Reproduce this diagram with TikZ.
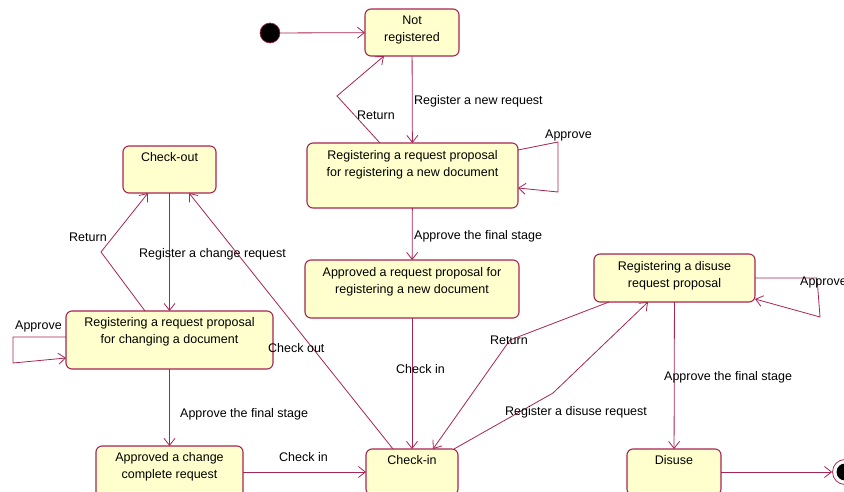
\documentclass[tikz,border=0pt]{standalone}
\usepackage{fontspec}
\setmainfont{Liberation Sans}
\usetikzlibrary{arrows.meta,calc}
\definecolor{umlline}{RGB}{168,36,84}
\definecolor{umlfill}{RGB}{255,255,206}
\begin{document}
\begin{tikzpicture}[x=1pt,y=-1pt,
  statebox/.style={draw=umlline,fill=umlfill,line width=1.1pt,rounded corners=6pt,inner sep=0pt,outer sep=0pt,anchor=north west},
  statetext/.style={anchor=north,inner sep=0pt,align=center,font=\fontsize{12.5}{17}\selectfont},
  lbl/.style={anchor=west,inner sep=0pt,font=\fontsize{12.5}{15}\selectfont},
  tr/.style={draw=umlline,line width=0.8pt,-{Straight Barb[length=7pt,width=11pt]}},
]
\useasboundingbox (0,0) rectangle (844,492);
% states
\node[statebox,minimum width=94pt,minimum height=47pt] (nr) at (365,9) {};
\node[statebox,minimum width=211pt,minimum height=65pt] (rn) at (307,143) {};
\node[statebox,minimum width=214pt,minimum height=58pt] (an) at (305,260) {};
\node[statebox,minimum width=92pt,minimum height=46pt] (ci) at (366,449) {};
\node[statebox,minimum width=93pt,minimum height=47pt] (co) at (123,146) {};
\node[statebox,minimum width=207pt,minimum height=58pt] (rc) at (66,311) {};
\node[statebox,minimum width=147pt,minimum height=52pt] (ac) at (96,446) {};
\node[statebox,minimum width=161pt,minimum height=48pt] (rd) at (594,254) {};
\node[statebox,minimum width=94pt,minimum height=46pt] (du) at (627,449) {};
% texts
\node[statetext] (tnr) at ($(nr.north)+(0,7)$) {Not\\registered};
\node[statetext] (trn) at ($(rn.north)+(0,7)$) {Registering a request proposal\\for registering a new document};
\node[statetext] (tan) at ($(an.north)+(0,7)$) {Approved a request proposal for\\registering a new document};
\node[statetext] (tci) at ($(ci.north)+(0,6)$) {Check-in};
\node[statetext] (tco) at ($(co.north)+(0,6)$) {Check-out};
\node[statetext] (trc) at ($(rc.north)+(0,6)$) {Registering a request proposal\\for changing a document};
\node[statetext] (tac) at ($(ac.north)+(0,6)$) {Approved a change\\complete request};
\node[statetext] (trd) at ($(rd.north)+(0,7)$) {Registering a disuse\\request proposal};
\node[statetext] (tdu) at ($(du.north)+(0,6)$) {Disuse};
% pseudo states
\node[circle,fill=black,draw=umlline,line width=0.6pt,minimum size=20pt,inner sep=0pt] (init) at (270,33) {};
\node[circle,draw=umlline,line width=0.8pt,minimum size=25pt,inner sep=0pt] (fin) at (845,472) {};
\fill[black] (fin.center) circle (8.5pt);
% bend coordinates
\coordinate (b1) at (337,96);
\coordinate (b2) at (101,252);
\coordinate (b3) at (510,340);
\coordinate (b4) at (553,393);
% transitions
\draw[tr] (init) -- (nr);
\draw[tr] (nr) -- (rn);
\draw[tr] (rn) -- (an);
\draw[tr] (an) -- (ci);
\draw[tr] (co) -- (rc);
\draw[tr] (rc) -- (ac);
\draw[tr] (rd) -- (du);
\draw[tr] (ac.east |- 0,472) -- (ci.west |- 0,472);
\draw[tr] (du) -- (fin);
\draw[tr] ($(rn.north west)+(73,0)$) -- (b1) -- ($(nr.south west)+(19,0)$);
\draw[tr] ($(rn.north east)+(0,7)$) -- (558,142) -- (558,192) -- ($(rn.north east)+(0,45)$);
\draw[tr] ($(rc.north west)+(79,0)$) -- (b2) -- ($(co.south west)+(25,0)$);
\draw[tr] ($(rc.north west)+(0,26)$) -- (13,337) -- (13,363) -- ($(rc.north west)+(0,47)$);
\draw[tr] ($(ci.north west)+(27,0)$) -- ($(co.south west)+(66,0)$);
\draw[tr] ($(rd.south west)+(15,0)$) -- (b3) -- ($(ci.north west)+(67,0)$);
\draw[tr] ($(ci.north west)+(88,0)$) -- (b4) -- ($(rd.south west)+(54,0)$);
\draw[tr] ($(rd.north east)+(0,24)$) -- (817,278) -- (820,317) -- ($(rd.north east)+(0,45)$);
% labels
\node[lbl] (l1) at (414,101) {Register a new request};
\node[lbl] (l2) at (357,115) {Return};
\node[lbl] (l3) at (545,135) {Approve};
\node[lbl] (l4) at (414,236) {Approve the final stage};
\node[lbl] (l5) at (396,369) {Check in};
\node[lbl] (l6) at (69,237) {Return};
\node[lbl] (l7) at (139,254) {Register a change request};
\node[lbl] (l8) at (15,326) {Approve};
\node[lbl] (l9) at (268,348) {Check out};
\node[lbl] (l10) at (180,414) {Approve the final stage};
\node[lbl] (l11) at (279,457) {Check in};
\node[lbl] (l12) at (490,340) {Return};
\node[lbl] (l13) at (505,412) {Register a disuse request};
\node[lbl] (l14) at (664,377) {Approve the final stage};
\node[lbl] (l15) at (800,282) {Approve};
\end{tikzpicture}
\end{document}
